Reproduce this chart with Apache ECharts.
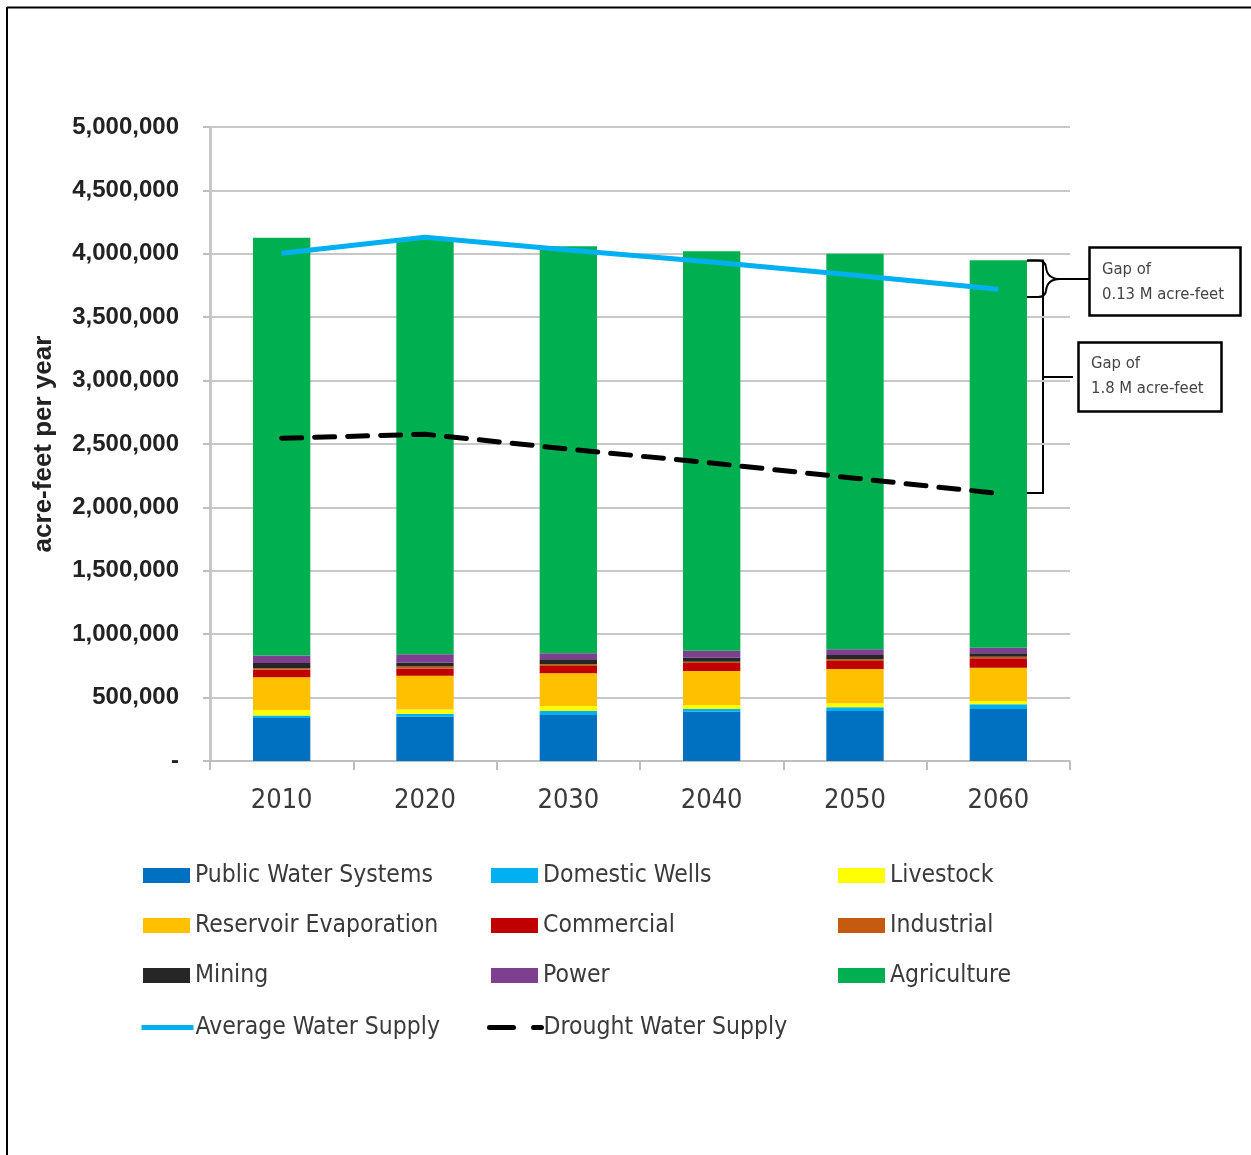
<!DOCTYPE html>
<html>
<head>
<meta charset="utf-8">
<script src="https://cdn.jsdelivr.net/npm/echarts@6/dist/echarts.min.js"></script>
<style>
html,body{margin:0;padding:0;background:#fff;}
#chart{width:1251px;height:1155px;}
</style>
</head>
<body>
<div id="chart"></div>
<script>
const categories = ['2010','2020','2030','2040','2050','2060'];
const publicWaterSystems = [340000, 350000, 363000, 389000, 394000, 410000];
const domesticWells      = [18000, 22000, 31000, 21000, 30000, 37000];
const livestock          = [45000, 35000, 40000, 32000, 31000, 26000];
const reservoirEvap      = [258000, 265000, 258000, 268000, 271000, 263000];
const commercial         = [58000, 58000, 57000, 63000, 63000, 74000];
const industrial         = [13000, 15000, 14000, 10000, 13000, 13000];
const mining             = [40000, 30000, 39000, 32000, 34000, 26000];
const power              = [60000, 66000, 47000, 55000, 45000, 45000];
const agriculture        = [3295000, 3270000, 3211000, 3150000, 3119000, 3056000];
const averageSupply      = [4004000, 4130000, 4030000, 3935000, 3830000, 3720000];
const droughtSupply      = [2545000, 2577000, 2460000, 2350000, 2230000, 2110000];
const yTicks = [0, 500000, 1000000, 1500000, 2000000, 2500000, 3000000, 3500000, 4000000, 4500000, 5000000];

const narrow = "'DejaVu Sans Condensed', 'Liberation Sans Narrow', 'Arial Narrow', sans-serif";
const txt = '#3a3a3a';

const barDefs = [
  ['Public Water Systems', publicWaterSystems, '#0070C0'],
  ['Domestic Wells', domesticWells, '#00B0F0'],
  ['Livestock', livestock, '#FFFF00'],
  ['Reservoir Evaporation', reservoirEvap, '#FFC000'],
  ['Commercial', commercial, '#C00000'],
  ['Industrial', industrial, '#C55A11'],
  ['Mining', mining, '#262626'],
  ['Power', power, '#7D3F8E'],
  ['Agriculture', agriculture, '#00B050']
];

const series = barDefs.map(d => ({
  name: d[0], type: 'bar', stack: 'demand', data: d[1],
  barWidth: '40%', itemStyle: {color: d[2]}, emphasis: {disabled: true}
}));
series.push({
  name: 'Average Water Supply', type: 'line', data: averageSupply,
  symbol: 'none', lineStyle: {color: '#00B0F0', width: 5}, itemStyle: {color: '#00B0F0'},
  z: 5, emphasis: {disabled: true}
});
series.push({
  name: 'Drought Water Supply', type: 'line', data: droughtSupply,
  symbol: 'none', lineStyle: {color: '#000', width: 5, type: [20, 13], cap: 'round'}, itemStyle: {color: '#000'},
  z: 5, emphasis: {disabled: true}
});

// legend layout: 3 columns x 4 rows
const legendNames = ['Public Water Systems','Domestic Wells','Livestock','Reservoir Evaporation','Commercial','Industrial','Mining','Power','Agriculture','Average Water Supply','Drought Water Supply'];
const colX = [143, 491, 838];
const rowY = [871, 921, 971, 1023];
const legends = legendNames.map((n, i) => {
  const isLine = i >= 9;
  const col = i % 3, row = Math.floor(i / 3);
  const lg = {
    data: [n], left: colX[col], top: rowY[row] - 8,
    itemWidth: 47, itemHeight: 15, itemGap: 0, padding: 0,
    selectedMode: false,
    textStyle: {fontFamily: narrow, fontSize: 24.5, color: txt}
  };
  if (isLine) {
    lg.left = colX[col] - 4; lg.itemWidth = 52;
    lg.itemStyle = {color: 'rgba(0,0,0,0)', borderColor: 'rgba(0,0,0,0)', borderWidth: 0};
    lg.textStyle.padding = [0, 0, 0, -3];
  } else {
    lg.icon = 'rect';
  }
  if (i === 10) lg.lineStyle = {type: [24, 20], width: 5};
  if (i === 9) lg.lineStyle = {width: 5};
  return lg;
});

const L = (x1, y1, x2, y2) => ({type: 'line', shape: {x1, y1, x2, y2}, style: {stroke: '#000', lineWidth: 2}});
const Q = (x1, y1, cpx1, cpy1, x2, y2) => ({type: 'bezierCurve', shape: {x1, y1, cpx1, cpy1, x2, y2}, style: {stroke: '#000', fill: null, lineWidth: 2}});

const chart = echarts.init(document.getElementById('chart'), null, {renderer: 'canvas'});
chart.setOption({
  backgroundColor: '#fff',
  animation: false,
  legend: legends,
  grid: {left: 210, right: 181, top: 127, bottom: 394, containLabel: false},
  xAxis: {
    type: 'category', data: categories, boundaryGap: true,
    axisLine: {lineStyle: {color: '#bfbfbf', width: 2}},
    axisTick: {show: true, length: 9, lineStyle: {color: '#bfbfbf', width: 2}},
    axisLabel: {fontFamily: narrow, fontSize: 27, color: txt, margin: 26}
  },
  yAxis: {
    type: 'value', min: 0, max: 5000000, interval: 500000,
    name: 'acre-feet per year', nameLocation: 'middle', nameGap: 153,
    nameTextStyle: {fontFamily: "'Liberation Sans', Arial, sans-serif", fontWeight: 'bold', fontSize: 26, color: '#222'},
    axisLine: {show: true, lineStyle: {color: '#c8c8c8', width: 3}},
    axisTick: {show: true, length: 7, lineStyle: {color: '#bfbfbf', width: 2}},
    splitLine: {lineStyle: {color: '#c8c8c8', width: 2}},
    axisLabel: {
      fontFamily: "'Liberation Sans', Arial, sans-serif", fontWeight: 'bold', fontSize: 24, color: '#222', margin: 31,
      formatter: v => v === 0 ? '-' : v.toLocaleString('en-US')
    }
  },
  series: series,
  graphic: [
    // outer frame (top and left edges)
    L(7, 7.5, 1251, 7.5),
    L(7, 7, 7, 1155),
    // small curly brace
    L(1027, 260.5, 1038, 260.5),
    Q(1038, 260.5, 1045, 260.5, 1046, 267),
    Q(1046, 267, 1047, 279, 1060, 279),
    Q(1060, 279, 1047, 279, 1046, 291),
    Q(1046, 291, 1045, 297, 1038, 297),
    L(1038, 297, 1027, 297),
    L(1060, 279, 1089, 279),
    // large bracket
    {type: 'polyline', shape: {points: [[1027, 260.5], [1043, 260.5], [1043, 493], [1027, 493]]}, style: {stroke: '#000', fill: null, lineWidth: 2}},
    L(1043, 377, 1073, 377),
    // box 1
    {type: 'rect', shape: {x: 1089.5, y: 247.5, width: 151, height: 68}, style: {stroke: '#000', fill: '#fff', lineWidth: 2.5}},
    {type: 'text', left: 1102, top: 257, style: {text: 'Gap of\n0.13 M acre-feet', fontFamily: narrow, fontSize: 16.5, lineHeight: 25, fill: '#444'}},
    // box 2
    {type: 'rect', shape: {x: 1078.5, y: 342.5, width: 143, height: 69}, style: {stroke: '#000', fill: '#fff', lineWidth: 2.5}},
    {type: 'text', left: 1091, top: 351, style: {text: 'Gap of\n1.8 M acre-feet', fontFamily: narrow, fontSize: 16.5, lineHeight: 25, fill: '#444'}}
  ]
});
</script>
</body>
</html>
